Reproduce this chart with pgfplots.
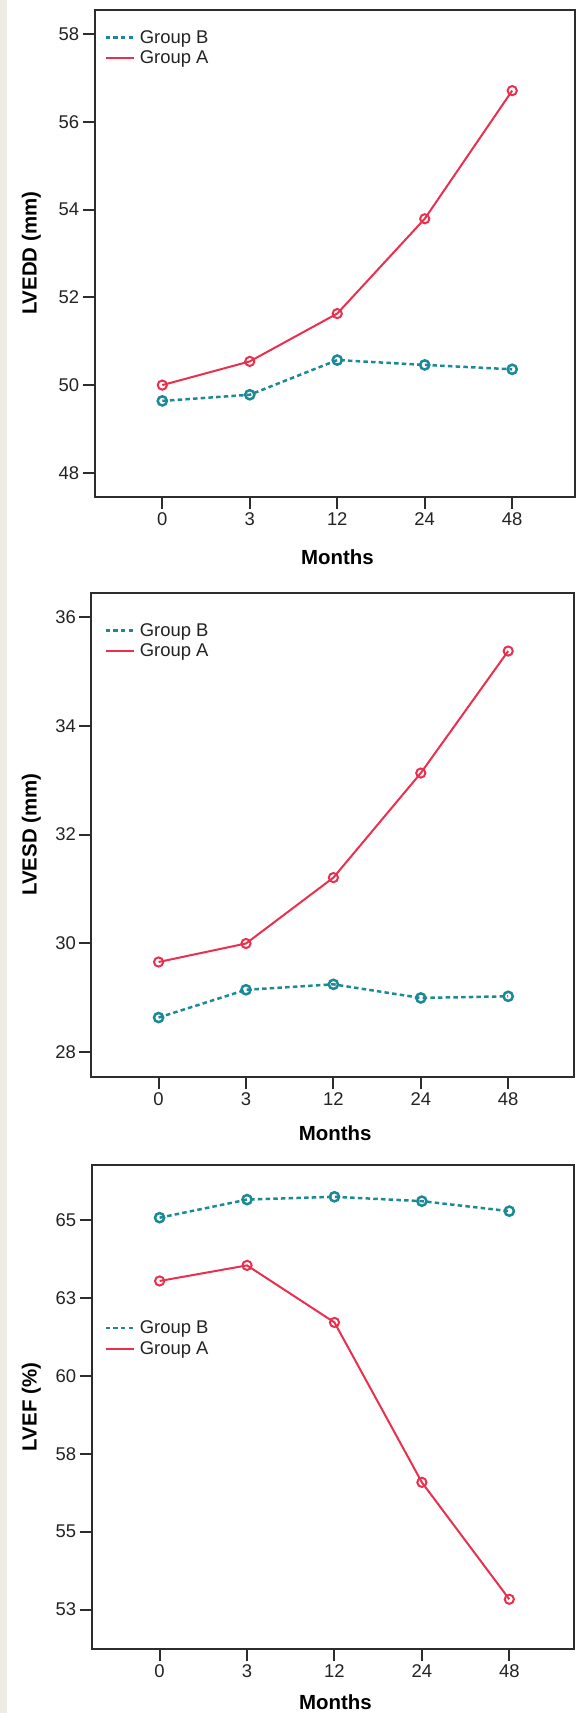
\documentclass[border=0pt]{standalone}
\usepackage{fontspec}
\setmainfont{Liberation Sans}
\usepackage{pgfplots}
\usepackage{pgfplotstable}
\pgfplotsset{compat=1.18}
\definecolor{cred}{RGB}{234,48,78}
\definecolor{cteal}{RGB}{28,138,150}
\definecolor{cframe}{RGB}{45,45,45}
\definecolor{ctext}{RGB}{35,35,35}
\definecolor{cbeige}{RGB}{238,237,227}

\pgfplotstableread{
idx A B
0 50.00 49.64
1 50.54 49.78
2 51.63 50.57
3 53.79 50.46
4 56.71 50.36
}\tabone
\pgfplotstableread{
idx A B
0 29.66 28.64
1 30.00 29.15
2 31.21 29.25
3 33.13 29.00
4 35.37 29.03
}\tabtwo
\pgfplotstableread{
idx A B
0 63.04 65.07
1 63.54 65.65
2 61.71 65.74
3 56.58 65.60
4 52.83 65.28
}\tabthree

\pgfplotsset{
  panel/.style={
    scale only axis,
    axis line style={draw=cframe, line width=2bp},
    every tick/.style={draw=cframe, line width=2bp},
    tick align=outside,
    major tick length=12bp,
    xtick pos=left, ytick pos=left,
    xtick={0,1,2,3,4},
    xticklabels={0,3,12,24,48},
    ticklabel style={font=\fontsize{18.5}{21}\selectfont, text=ctext},
    /pgf/number format/assume math mode=true,
    label style={font=\bfseries\fontsize{20.5}{23}\selectfont, text=black},
    xlabel={Months},
    legend style={draw=none, fill=none, font=\fontsize{18.5}{21}\selectfont, text=ctext, row sep=2bp, inner sep=0pt, anchor=west},
    legend cell align=left,
    legend image code/.code={\draw[##1] (0bp,0bp) -- (28bp,0bp); \path (31bp,0bp);},
    every axis plot/.append style={mark=o, mark size=4.6bp, mark options={solid}},
  },
  grpA/.style={color=cred, solid, line width=2bp},
  grpB/.style={color=cteal, line width=2.5bp, dash pattern=on 4.5bp off 3.2bp},
}

\begin{document}
\begin{tikzpicture}
\fill[white] (0bp,0bp) rectangle (577bp,1713bp);
\fill[cbeige] (0bp,0bp) rectangle (7bp,1713bp);

% Panel 1
\begin{axis}[panel,
  at={(94.6bp,1216.2bp)}, anchor=south west,
  width=480.4bp, height=486.9bp,
  xmin=-0.774, xmax=4.718,
  ymin=47.455, ymax=58.55,
  ytick={48,50,52,54,56,58},
  ylabel={LVEDD (mm)},
  ylabel style={at={(axis description cs:-0.1318,0.5)}, anchor=center},
  xlabel style={at={(axis description cs:0.5054,-0.1247)}, anchor=center},
  legend style={at={(axis description cs:0.0198,0.9225)}},
]
\addplot[grpB] table[x=idx,y=B]{\tabone};
\addlegendentry{Group B}
\addplot[grpA] table[x=idx,y=A]{\tabone};
\addlegendentry{Group A}
\end{axis}

% Panel 2
\begin{axis}[panel,
  at={(91.3bp,636.3bp)}, anchor=south west,
  width=482.7bp, height=483.9bp,
  xmin=-0.77, xmax=4.753,
  ymin=27.554, ymax=36.44,
  ytick={28,30,32,34,36},
  ylabel={LVESD (mm)},
  ylabel style={at={(axis description cs:-0.124,0.5)}, anchor=center},
  xlabel style={at={(axis description cs:0.5054,-0.1163)}, anchor=center},
  legend style={at={(axis description cs:0.0265,0.901)}},
]
\addplot[grpB] table[x=idx,y=B]{\tabtwo};
\addlegendentry{Group B}
\addplot[grpA] table[x=idx,y=A]{\tabtwo};
\addlegendentry{Group A}
\end{axis}

% Panel 3
\begin{axis}[panel,
  at={(91.6bp,63.7bp)}, anchor=south west,
  width=482.4bp, height=484.6bp,
  xmin=-0.778, xmax=4.74,
  ymin=51.225, ymax=66.77,
  ytick={52.5,55,57.5,60,62.5,65},
  yticklabels={53,55,58,60,63,65},
  ylabel={LVEF (\%)},
  ylabel style={at={(axis description cs:-0.125,0.5)}, anchor=center},
  xlabel style={at={(axis description cs:0.5054,-0.1085)}, anchor=center},
  legend style={at={(axis description cs:0.026,0.6416)}},
]
\addplot[grpB] table[x=idx,y=B]{\tabthree};
\addlegendentry{Group B}
\addplot[grpA] table[x=idx,y=A]{\tabthree};
\addlegendentry{Group A}
\end{axis}

\pgfresetboundingbox
\path[use as bounding box] (0bp,0bp) rectangle (577bp,1713bp);
\end{tikzpicture}
\end{document}
